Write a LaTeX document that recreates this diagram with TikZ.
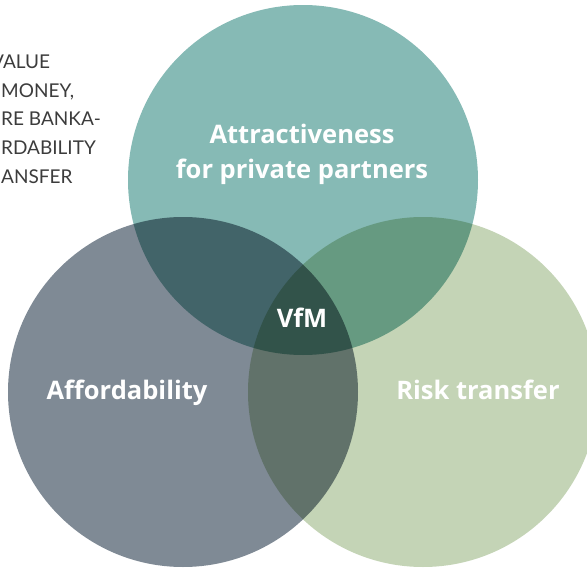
\documentclass[tikz,border=0pt]{standalone}
\usepackage{fontspec}
\setmainfont{Open Sans}
\newfontfamily\sidefont{Lato}
\usetikzlibrary{positioning}

\definecolor{attractcol}{HTML}{86BAB5}
\definecolor{affordcol}{HTML}{7F8A95}
\definecolor{riskcol}{HTML}{C4D4B6}
\definecolor{sidecol}{HTML}{3C3C3C}

\begin{document}
\begin{tikzpicture}[x=1pt, y=-1pt,
    set/.style={circle, minimum size=350pt, inner sep=0pt, fill=#1},
    setname/.style={text=white, font=\bfseries\fontsize{25.5}{35}\selectfont, align=center, inner sep=0pt},
    sideline/.style={anchor=base west, text=sidecol, font=\sidefont\fontsize{19}{19}\selectfont, inner sep=0pt}]
    \useasboundingbox (0,0) rectangle (587,570);

    % the three sets, overlaps come out of the multiply blend
    \begin{scope}[blend group=multiply]
        \node[set=attractcol] (attract) at (303,180) {};
        \node[set=affordcol] (afford) at (183,392) {};
        \node[set=riskcol] (risk) at (423,392) {};
    \end{scope}

    \node[setname, anchor=base] (attractname) at (302,178) {Attractiveness\\for private partners};
    \node[setname, anchor=base] (affordname) at (127,399) {Affordability};
    \node[setname, anchor=base] (riskname) at (478,399) {Risk transfer};
    \node[setname, anchor=base] (vfm) at (302,327) {VfM};

    % text running in from the left margin
    \node[sideline] (s1) at (-9,68) {VALUE};
    \node[sideline] (s2) at (1,97) {MONEY,};
    \node[sideline] (s3) at (1,125) {RE BANKA-};
    \node[sideline] (s4) at (1,154) {RDABILITY};
    \node[sideline] (s5) at (1,183) {ANSFER};
\end{tikzpicture}
\end{document}
